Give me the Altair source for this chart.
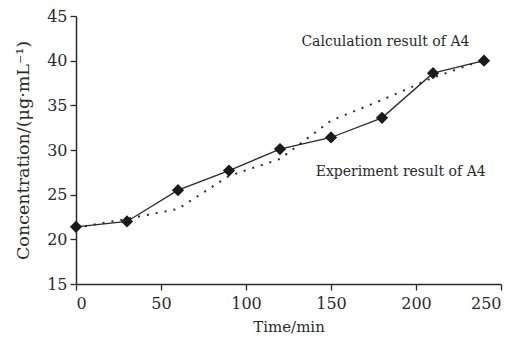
import altair as alt
import pandas as pd

time_min = [0, 30, 60, 90, 120, 150, 180, 210, 240]
experiment = [21.4, 22.0, 25.5, 27.7, 30.1, 31.4, 33.6, 38.6, 40.0]
calculation = [21.3, 22.3, 23.4, 27.1, 29.0, 33.3, 35.6, 38.1, 40.1]

labels = ["Calculation result of A4", "Experiment result of A4"]
label_x = [182, 191]
label_y = [42.1, 27.5]

FONT = "DejaVu Serif"
INK = "#2a2a2a"

exp_df = pd.DataFrame({"t": time_min, "c": experiment})
calc_df = pd.DataFrame({"t": time_min, "c": calculation})
lab_df = pd.DataFrame({"label": labels, "t": label_x, "c": label_y})

x = alt.X("t:Q", scale=alt.Scale(domain=[0, 250], nice=False),
          axis=alt.Axis(title="Time/min", values=[0, 50, 100, 150, 200, 250],
                        grid=False, tickSize=6, labelPadding=5, titlePadding=8,
                        titleFontWeight="normal", titleFontSize=15))
y = alt.Y("c:Q", scale=alt.Scale(domain=[15, 45], nice=False, zero=False),
          axis=alt.Axis(title="Concentration/(μg·mL⁻¹)", values=[15, 20, 25, 30, 35, 40, 45],
                        grid=False, tickSize=6, labelPadding=3, titlePadding=14,
                        titleFontWeight="normal", titleFontSize=17.5))

base_exp = alt.Chart(exp_df).encode(x=x, y=y)
calc_line = alt.Chart(calc_df).mark_line(color=INK, strokeWidth=2, strokeDash=[2, 7]).encode(x=x, y=y)
exp_line = base_exp.mark_line(color=INK, strokeWidth=1.3)
exp_pts = base_exp.mark_point(shape="diamond", filled=True, color="#1a1a1a", size=150, opacity=1)
texts = alt.Chart(lab_df).mark_text(font=FONT, fontSize=14, color=INK).encode(
    x=x, y=y, text="label:N")

chart = alt.layer(calc_line, exp_line, exp_pts, texts).properties(
    width=425, height=268,
    autosize=alt.AutoSizeParams(type="none"),
    padding={"left": 68, "top": 8, "right": 8, "bottom": 50},
).configure_view(stroke=None).configure_axis(
    domainColor=INK, domainWidth=1.5, tickColor=INK, tickWidth=1.3,
    labelFont=FONT, labelFontSize=16, labelColor=INK,
    titleFont=FONT, titleColor=INK, titleFontWeight="normal",
)

chart.save("out.html", embed_options={"renderer": "svg", "actions": False})
